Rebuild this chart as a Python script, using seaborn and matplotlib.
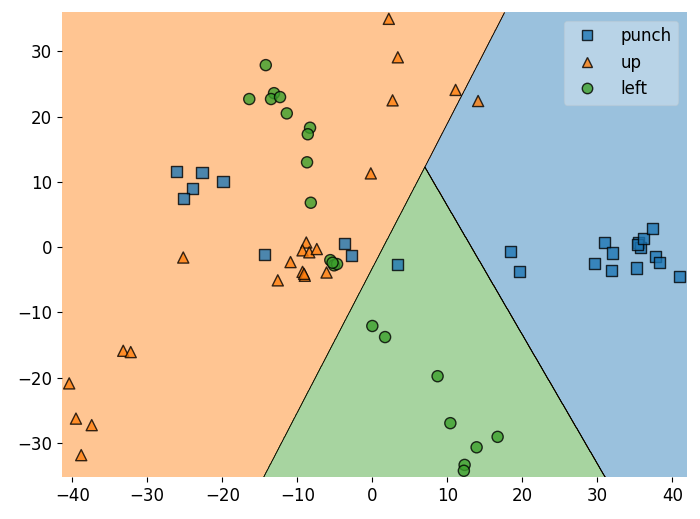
import numpy as np
import pandas as pd
import matplotlib
matplotlib.use("Agg")
import matplotlib.pyplot as plt
from matplotlib.colors import ListedColormap
import seaborn as sns

# ======= data =======
classes = ["punch", "up", "left"]
colors = ["#1f77b4", "#ff7f0e", "#3ca02c"]
markers = ["s", "^", "o"]

punch_x = [-26.1, -22.7, -19.9, -24.0, -25.2, -14.4, -3.7, -2.8, 3.4,
           18.4, 19.6, 29.6, 30.9, 32.0, 31.9, 35.2, 35.5, 35.8, 35.3,
           36.2, 37.3, 37.7, 38.3, 40.9]
punch_y = [11.6, 11.4, 10.1, 9.0, 7.4, -1.2, 0.5, -1.3, -2.7,
           -0.7, -3.7, -2.5, 0.7, -0.9, -3.6, -3.2, 0.7, -0.1, 0.4,
           1.3, 2.8, -1.4, -2.4, -4.5]

up_x = [2.2, 3.4, 11.1, 2.7, 14.1, -0.2,
        -8.8, -9.3, -8.4, -7.4, -10.9, -12.6, -9.3, -9.0, -9.1, -6.1,
        -25.2, -33.2, -32.2, -40.4, -39.5, -37.4, -38.8]
up_y = [35.0, 29.1, 24.1, 22.5, 22.4, 11.3,
        0.7, -0.5, -0.8, -0.3, -2.3, -5.1, -3.8, -4.4, -4.1, -3.9,
        -1.6, -15.9, -16.1, -20.9, -26.3, -27.3, -31.9]

left_x = [-14.2, -16.4, -13.1, -13.5, -12.3, -11.4, -8.3, -8.6, -8.7, -8.2,
          -5.6, -5.1, -4.7, -5.3,
          0.0, 1.7, 8.7, 10.4, 16.7, 13.9, 12.3, 12.2]
left_y = [27.9, 22.7, 23.6, 22.7, 23.0, 20.5, 18.3, 17.3, 13.0, 6.8,
          -2.0, -2.8, -2.6, -2.4,
          -12.1, -13.8, -19.8, -27.0, -29.1, -30.7, -33.4, -34.3]

# linear decision scores (w_x, w_y, b) per class, "up" is the reference
coef_x = [2.394, 0.0, 2.3849]
coef_y = [-1.073, 0.0, -1.0776]
intercept = [-3.603, 0.0, -3.4829]

df = pd.concat([
    pd.DataFrame({"x": punch_x, "y": punch_y, "label": "punch"}),
    pd.DataFrame({"x": up_x, "y": up_y, "label": "up"}),
    pd.DataFrame({"x": left_x, "y": left_y, "label": "left"}),
], ignore_index=True)

plt.rcParams["font.size"] = 12

fig = plt.figure(figsize=(7, 5.19), dpi=100)
ax = fig.add_axes([61.7 / 700, 1 - 477.3 / 519, 625 / 700, 465 / 519])

# ======= decision regions =======
x_min, x_max = df["x"].min() - 1, df["x"].max() + 1
y_min, y_max = df["y"].min() - 1, df["y"].max() + 1
xx, yy = np.meshgrid(np.arange(x_min, x_max, 0.04), np.arange(y_min, y_max, 0.04))
scores = np.stack([coef_x[k] * xx + coef_y[k] * yy + intercept[k] for k in range(3)])
Z = scores.argmax(axis=0)

ax.contourf(xx, yy, Z, levels=[-0.5, 0.5, 1.5, 2.5], cmap=ListedColormap(colors), alpha=0.45)
ax.contour(xx, yy, Z, levels=[0.5, 1.5], colors="k", linewidths=0.6)

# ======= points =======
sns.scatterplot(data=df, x="x", y="y", hue="label", style="label",
                hue_order=classes, style_order=classes,
                palette=dict(zip(classes, colors)), markers=dict(zip(classes, markers)),
                s=64, edgecolor="black", linewidth=1, alpha=0.8, ax=ax)

ax.set_xlim(x_min, x_max)
ax.set_ylim(y_min, y_max)
ax.set_xlabel("")
ax.set_ylabel("")
for side in ax.spines:
    ax.spines[side].set_visible(False)

handles, labels = ax.get_legend_handles_labels()
for h in handles:
    h.set_markeredgecolor("black")
    h.set_alpha(0.8)
    h.set_markersize(7.5)
ax.legend(handles, labels, loc="upper right", framealpha=0.3, handletextpad=1.0)

fig.savefig("out.png", dpi=100)
